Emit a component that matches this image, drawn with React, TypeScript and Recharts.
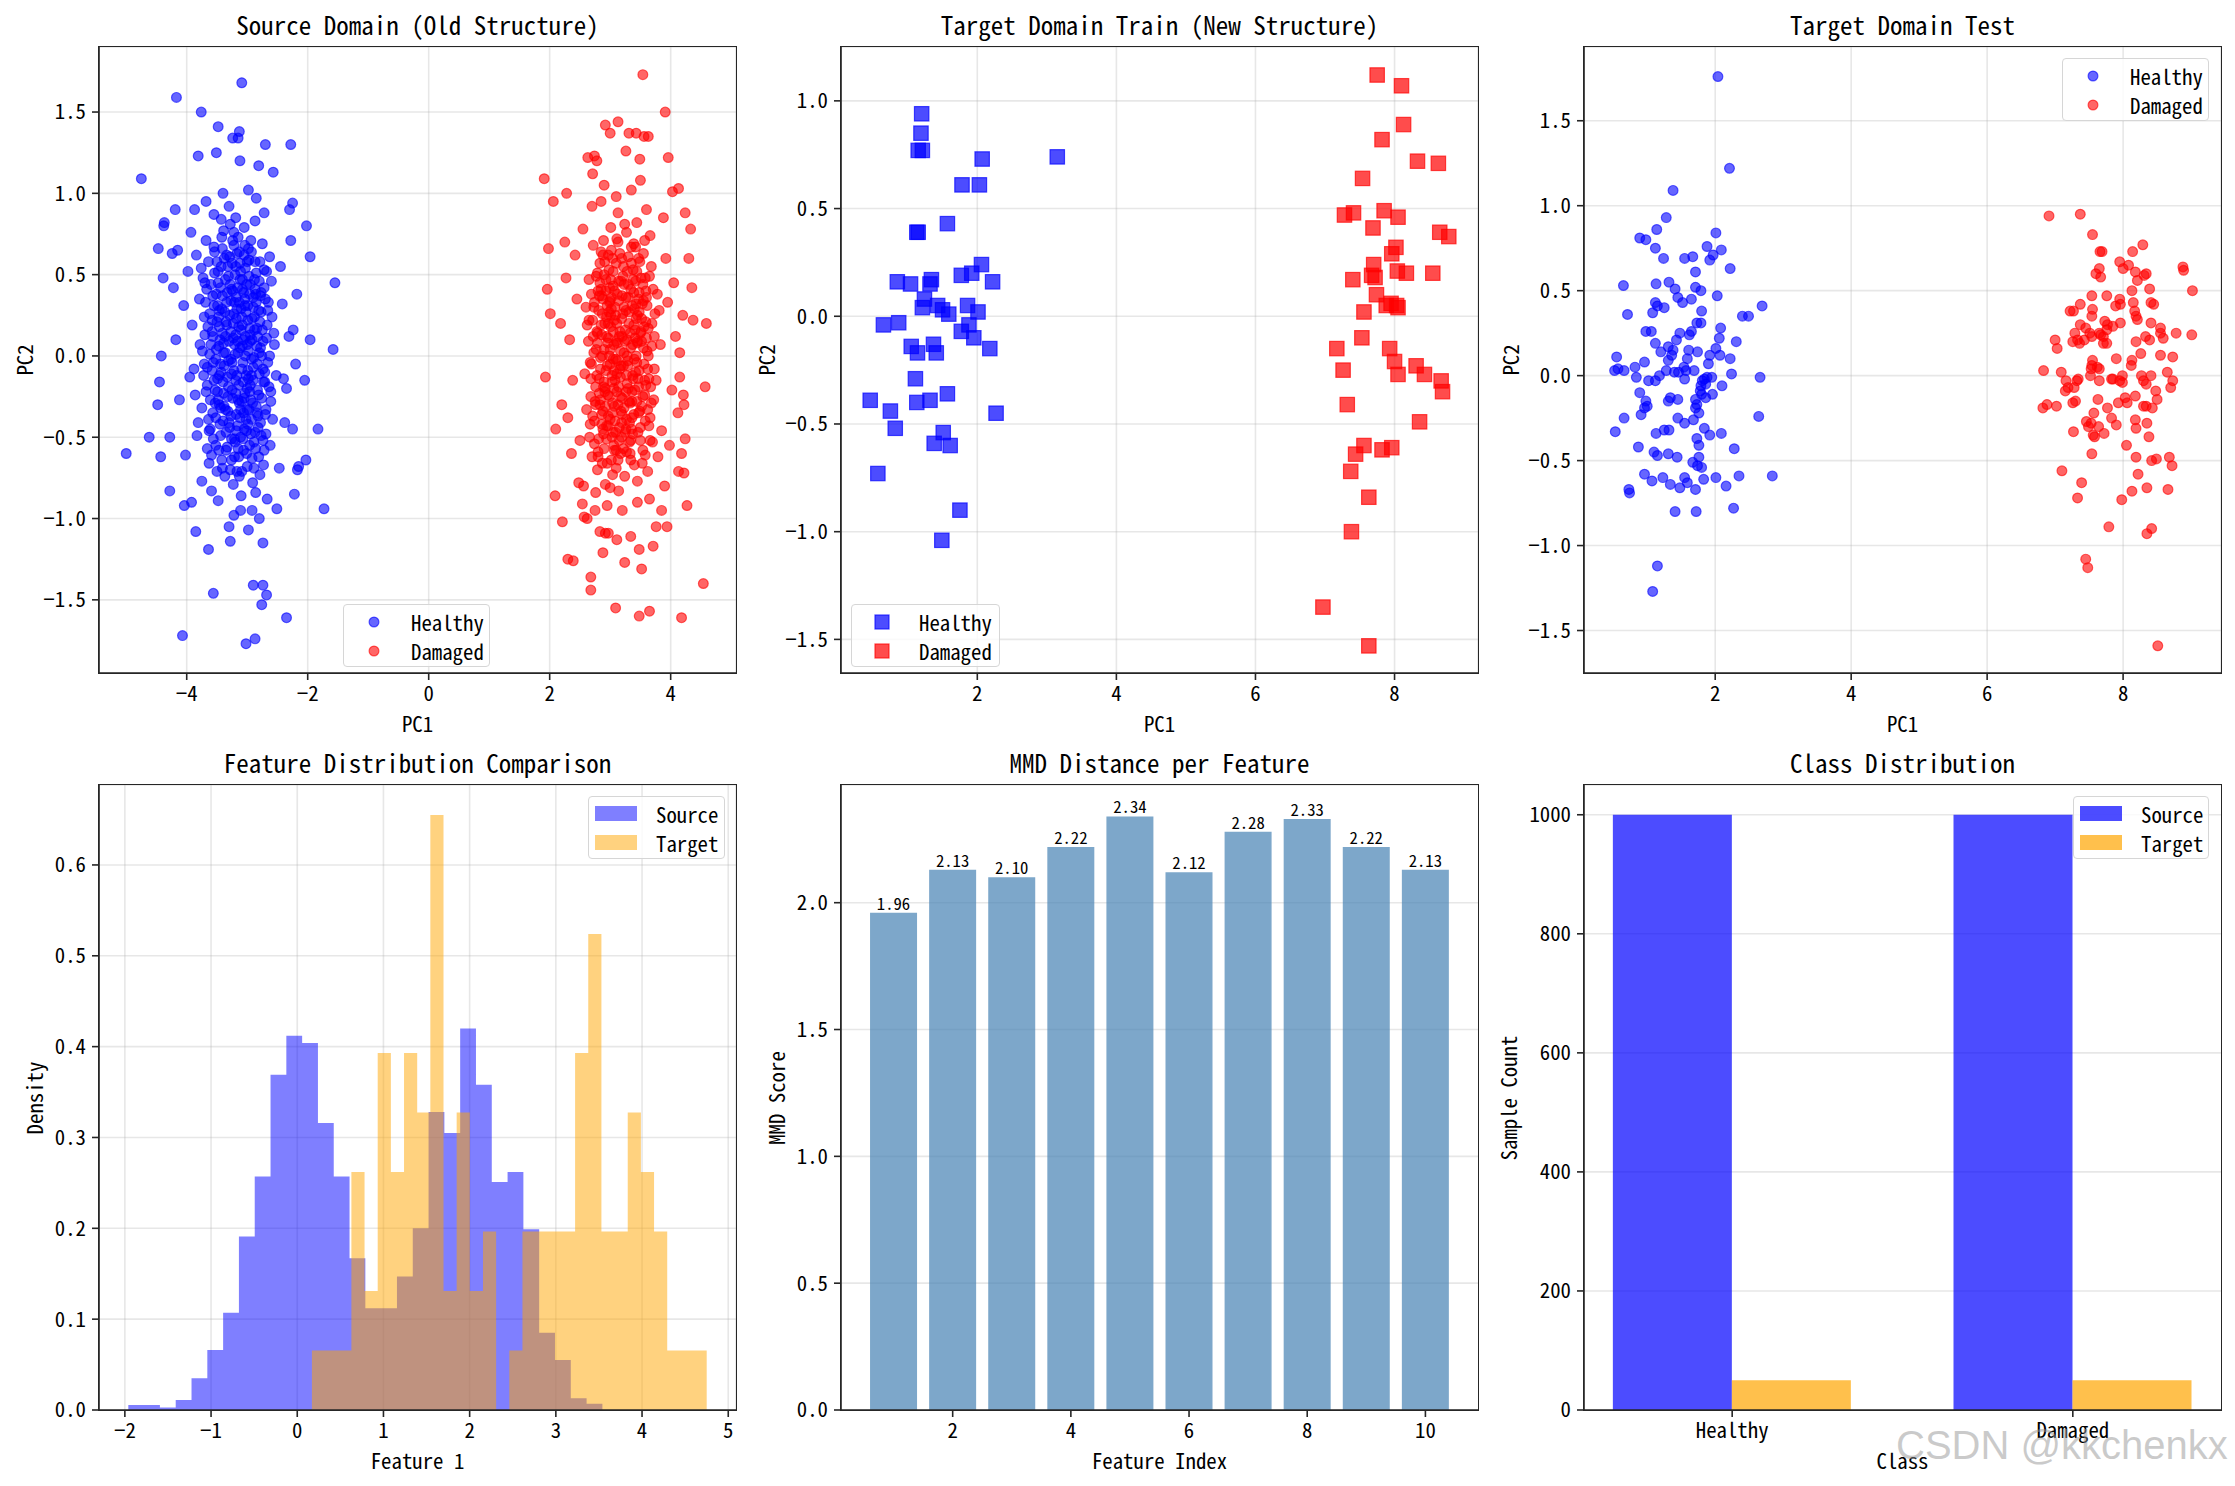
import React from "react";
import { ScatterChart, Scatter, XAxis, YAxis, CartesianGrid, BarChart, Bar, LabelList, AreaChart, Area } from "recharts";

// ---- data ----

// Source Domain (Old Structure): PC1 / PC2
const SRC_HEALTHY: [number, number][] = [
  [-4.75, 1.09], [-4.17, 1.59], [-3.09, 1.68], [-3.76, 1.5], [-3.48, 1.41], [-3.13, 1.38], [-3.24, 1.34], [-3.15, 1.34], [-2.7, 1.3], [-2.28, 1.3],
  [-3.81, 1.23], [-3.51, 1.25], [-2.57, 1.13], [-3.12, 1.2], [-2.81, 1.17], [-5.0, -0.6], [-4.62, -0.5], [-4.43, -0.62], [-4.47, 0.66], [-4.39, 0.48],
  [-4.42, 0.0], [-1.55, 0.45], [-1.58, 0.04], [-1.96, 0.61], [-2.02, 0.8], [-2.25, 0.94], [-1.83, -0.45], [-1.73, -0.94], [-2.03, -0.64], [-2.17, -0.7],
  [-2.35, -1.61], [-3.56, -1.46], [-2.9, -1.41], [-2.74, -1.41], [-2.68, -1.47], [-2.76, -1.53], [-4.07, -1.72], [-3.02, -1.77], [-2.87, -1.74], [-3.64, -1.19],
  [-3.28, -1.14], [-2.74, -1.15], [-3.85, -1.08], [-2.98, -1.07], [-4.28, -0.83], [-4.04, -0.92], [-2.51, -0.94], [-4.38, 0.8], [-4.37, 0.82], [-4.19, 0.9],
  [-4.24, 0.63], [-2.4, -0.14], [-2.05, -0.15], [-1.96, 0.1], [-2.24, 0.16], [-4.45, -0.16], [-4.48, -0.3],
  [-3.12, 0.05], [-3.35, 0.21], [-2.98, -0.14], [-3.44, -0.32], [-2.86, 0.38], [-3.21, -0.51], [-3.57, 0.12], [-2.74, -0.08], [-3.05, 0.62], [-3.66, -0.18],
  [-3.28, 0.44], [-2.93, -0.39], [-3.49, 0.31], [-3.15, -0.27], [-2.67, 0.19], [-3.78, 0.07], [-3.02, 0.27], [-3.38, -0.06], [-2.81, -0.62], [-3.24, 0.71],
  [-3.61, -0.45], [-2.95, 0.09], [-3.18, 0.36], [-3.43, 0.55], [-2.72, 0.42], [-3.09, -0.71], [-3.52, -0.02], [-2.88, 0.16], [-3.31, -0.19], [-3.69, 0.33],
  [-2.61, -0.28], [-3.14, 0.18], [-3.47, -0.58], [-3.01, -0.46], [-2.79, 0.58], [-3.36, 0.02], [-3.86, -0.24], [-3.22, -0.09], [-2.97, 0.49], [-3.55, 0.67],
  [-2.83, -0.21], [-3.27, -0.37], [-3.73, 0.48], [-3.07, -0.04], [-2.55, 0.07], [-3.41, 0.14], [-3.19, 0.85], [-2.91, -0.78], [-3.63, -0.66], [-3.33, 0.39],
  [-2.69, -0.48], [-3.11, 0.52], [-3.46, -0.12], [-2.99, 0.31], [-3.81, -0.41], [-2.77, 0.27], [-3.26, -0.64], [-3.58, 0.22], [-3.04, -0.23], [-2.63, 0.61],
  [-3.39, 0.77], [-3.16, -0.43], [-2.89, -0.01], [-3.71, -0.05], [-3.23, 0.11], [-2.94, 0.71], [-3.53, -0.29], [-2.84, -0.35], [-3.29, 0.25], [-3.08, 0.41],
  [-3.64, 0.58], [-2.71, -0.16], [-3.37, -0.74], [-3.13, 0.64], [-2.58, -0.39], [-3.48, 0.45], [-3.06, -0.58], [-3.91, 0.19], [-2.78, 0.05], [-3.32, -0.25],
  [-2.96, -0.55], [-3.19, -0.15], [-3.59, -0.83], [-2.87, 0.83], [-3.42, 0.29], [-2.65, 0.33], [-3.03, 0.12], [-3.75, -0.32], [-3.25, 0.57], [-2.92, 0.23],
  [-3.51, 0.04], [-2.82, -0.44], [-3.17, 0.29], [-3.45, -0.42], [-2.73, -0.67], [-3.34, 0.62], [-3.0, -0.33], [-2.52, -0.12], [-3.67, 0.41], [-3.1, -0.86],
  [-3.3, 0.92], [-2.85, 0.51], [-3.56, -0.51], [-3.2, 0.01], [-2.76, -0.26], [-3.4, -0.16], [-3.84, 0.62], [-2.9, 0.36], [-3.14, -0.62], [-3.62, 0.26],
  [-2.68, 0.11], [-3.27, 0.15], [-3.05, 0.79], [-3.5, -0.71], [-2.8, -0.11], [-3.18, -0.36], [-3.72, -0.12], [-2.98, 0.03], [-3.43, 0.84], [-2.62, -0.55],
  [-3.35, -0.47], [-3.09, 0.24], [-2.75, 0.69], [-3.6, 0.07], [-3.23, -0.79], [-2.94, -0.27], [-3.54, 0.51], [-3.02, -0.12], [-3.46, 0.18], [-2.86, -0.84],
  [-3.12, 0.47], [-3.79, 0.35], [-2.7, -0.36], [-3.31, -0.03], [-2.97, 0.59], [-3.66, -0.57], [-3.21, 0.33], [-2.59, 0.24], [-3.38, -0.31], [-3.07, -0.51],
  [-2.83, 0.12], [-3.49, -0.22], [-3.15, 0.73], [-2.92, -0.63], [-3.57, 0.37], [-3.26, -0.11], [-2.66, -0.04], [-3.41, 0.66], [-3.0, -0.68], [-3.88, -0.08],
  [-3.19, 0.55], [-2.78, 0.37], [-3.33, -0.56], [-2.95, -0.18], [-3.7, 0.13], [-3.08, 0.06], [-3.52, -0.38], [-2.74, -0.52], [-3.28, 0.81], [-2.88, 0.47],
  [-3.44, -0.05], [-3.13, -0.29], [-2.6, 0.46], [-3.61, -0.27], [-3.24, 0.4], [-2.99, -0.42], [-3.39, 0.08], [-2.81, 0.28], [-3.76, 0.54], [-3.17, -0.71],
  [-3.04, 0.35], [-3.47, 0.24], [-2.9, -0.07], [-3.3, -0.41], [-2.72, 0.53], [-3.55, -0.15], [-3.1, 0.16], [-2.85, -0.31], [-3.64, -0.39], [-3.22, 0.68],
  [-2.96, 0.17], [-3.36, 0.47], [-2.64, -0.19], [-3.5, 0.58], [-3.06, -0.35], [-2.79, -0.73], [-3.42, -0.64], [-3.16, 0.09], [-3.83, -0.49], [-2.93, 0.64],
  [-3.25, -0.21], [-2.56, 0.14], [-3.58, -0.09], [-3.01, 0.44], [-2.76, 0.0], [-3.34, 0.33], [-3.11, -0.95], [-3.68, 0.71], [-2.87, -0.47], [-3.2, -0.53],
  [-4.05, 0.31], [-4.12, -0.27], [-3.98, 0.52], [-4.02, -0.61], [-3.95, -0.13], [-3.93, 0.76], [-4.18, 0.1], [-2.42, 0.32], [-2.38, -0.41], [-2.45, 0.55],
  [-2.35, -0.2], [-2.47, -0.69], [-2.31, 0.12], [-2.28, 0.71], [-2.25, -0.45], [-3.22, -0.98], [-2.92, -0.95], [-3.48, -0.89], [-3.75, -0.77], [-2.67, -0.88],
  [-3.4, 1.0], [-2.98, 1.02], [-3.68, 0.95], [-2.85, 0.97], [-3.55, 0.87], [-2.72, 0.88], [-4.22, 0.42], [-4.28, -0.5], [-3.87, 0.9], [-3.92, -0.9],
  [-4.15, 0.65], [-2.2, -0.05], [-2.18, 0.38], [-2.15, -0.68], [-2.3, 0.9], [-2.22, -0.85], [-3.3, -1.05], [-2.8, -1.0],
  [-3.08, 0.19], [-3.27, -0.02], [-2.96, -0.22], [-3.41, 0.37], [-3.18, -0.46], [-2.84, 0.06], [-3.53, -0.21], [-3.03, 0.54], [-3.36, -0.33], [-2.71, -0.1],
  [-3.22, 0.26], [-3.47, 0.06], [-2.9, 0.3], [-3.14, -0.18], [-3.6, 0.44], [-2.78, -0.41], [-3.31, 0.49], [-3.01, -0.6], [-3.44, -0.49], [-2.87, 0.58],
  [-3.19, 0.13], [-3.66, -0.07], [-2.93, -0.12], [-3.29, -0.44], [-3.06, 0.39], [-2.66, 0.28], [-3.5, 0.21], [-3.12, -0.38], [-2.81, -0.24], [-3.38, 0.6],
  [-3.0, 0.07], [-3.57, -0.35], [-3.24, -0.26], [-2.75, 0.16], [-3.43, -0.1], [-3.09, -0.08], [-2.95, 0.44], [-3.71, 0.24], [-3.17, 0.63], [-2.86, -0.57],
  [-3.34, 0.19], [-3.05, -0.26], [-2.69, -0.33], [-3.48, 0.52], [-3.21, -0.62], [-2.99, 0.22], [-3.62, 0.01], [-3.26, 0.41], [-2.8, 0.46], [-3.11, -0.5],
  [-3.39, -0.23], [-2.92, 0.1], [-3.55, 0.31], [-3.15, 0.02], [-2.73, -0.16], [-3.3, 0.09], [-3.04, 0.68], [-3.46, -0.3], [-2.89, -0.69], [-3.2, 0.5],
  [-3.58, 0.15], [-2.97, -0.33], [-3.33, -0.13], [-2.77, 0.39], [-3.13, 0.33], [-3.42, 0.73], [-3.07, -0.16], [-2.63, 0.0], [-3.52, -0.55], [-3.23, 0.2],
  [-2.88, 0.24], [-3.37, 0.27], [-3.02, -0.39], [-3.68, -0.22], [-2.83, -0.05], [-3.16, 0.42], [-3.45, 0.1], [-2.94, -0.48], [-3.28, -0.7], [-3.1, 0.29],
  [-2.72, -0.58], [-3.54, 0.64], [-3.19, -0.23], [-2.98, 0.66], [-3.4, -0.4], [-3.06, 0.1], [-2.85, 0.33], [-3.63, -0.46], [-3.25, -0.04], [-2.91, -0.29],
  [-3.32, 0.55], [-3.0, -0.2], [-3.74, 0.03], [-2.79, 0.21], [-3.15, -0.57], [-3.49, -0.14], [-2.96, 0.38], [-3.27, 0.34], [-2.68, 0.52], [-3.11, -0.33],
  [-3.44, 0.42], [-3.03, 0.0], [-2.82, -0.37], [-3.59, -0.61], [-3.22, 0.76], [-2.9, -0.15], [-3.35, -0.58], [-3.08, 0.47], [-2.74, 0.09], [-3.51, 0.38],
  [-3.17, -0.12], [-2.95, 0.13], [-3.39, 0.02], [-3.05, -0.45], [-2.61, -0.22], [-3.29, 0.61], [-3.65, 0.18], [-2.87, 0.41], [-3.13, -0.74], [-3.46, 0.28],
  [-2.99, -0.09], [-3.21, 0.07], [-2.77, -0.49], [-3.56, -0.04], [-3.32, -0.34], [-3.0, 0.58], [-2.84, 0.17], [-3.41, -0.69], [-3.18, 0.23], [-2.93, -0.02],
  [-3.7, 0.45], [-3.26, -0.51], [-3.04, 0.31], [-2.7, 0.35], [-3.48, -0.27], [-3.12, 0.57], [-2.89, -0.53], [-3.36, 0.12], [-3.09, -0.28], [-2.8, 0.02],
];

const SRC_DAMAGED: [number, number][] = [
  [3.54, 1.73], [3.91, 1.5], [2.92, 1.42], [3.13, 1.44], [3.0, 1.37], [3.31, 1.37], [3.43, 1.37], [3.56, 1.35], [3.63, 1.35], [1.91, 1.09],
  [2.06, 0.95], [2.28, 1.0], [1.98, 0.66], [1.96, 0.41], [2.01, 0.26], [1.93, -0.13], [2.1, -0.45], [2.09, -0.86], [2.21, -1.02], [2.3, -1.25],
  [2.39, -1.26], [2.68, -1.36], [2.68, -1.44], [3.09, -1.55], [3.48, -1.6], [3.65, -1.57], [4.18, -1.61], [4.54, -1.4], [4.59, 0.2], [4.57, -0.19],
  [4.37, 0.22], [4.35, 0.42], [4.3, 0.6], [4.33, 0.78], [4.24, 0.88], [4.03, 1.01], [4.13, 1.03], [3.96, 1.22], [4.27, -0.92], [4.22, -0.72],
  [4.13, -0.71], [3.52, -1.31], [3.71, -1.17], [3.24, -1.27], [2.88, -1.21], [3.94, -1.05], [3.76, -1.05], [2.56, -0.8], [2.54, -0.91], [2.57, -0.99],
  [2.83, -1.08], [2.92, -1.09], [2.97, -1.09], [3.11, -1.13], [3.34, -1.11], [3.48, -1.19], [4.21, -0.24], [4.22, -0.3], [4.24, -0.51], [4.15, -0.13],
  [2.74, 1.23], [2.78, 1.2], [2.63, 1.22], [3.26, 1.26], [3.49, 1.21], [2.71, 1.12],
  [3.12, 0.08], [2.91, -0.22], [3.36, 0.31], [3.05, -0.47], [3.48, -0.09], [2.78, 0.15], [3.22, 0.55], [3.59, 0.21], [2.95, -0.66], [3.31, -0.28],
  [2.85, 0.41], [3.17, -0.13], [3.66, -0.38], [3.02, 0.29], [2.69, -0.05], [3.42, 0.67], [3.27, -0.59], [2.88, -0.34], [3.54, 0.44], [3.09, -0.02],
  [3.73, 0.12], [2.97, 0.62], [3.35, -0.45], [2.74, 0.33], [3.19, 0.23], [3.62, -0.71], [3.04, -0.29], [2.81, -0.51], [3.45, 0.09], [3.14, 0.46],
  [2.62, 0.19], [3.28, -0.17], [3.81, 0.28], [3.0, -0.81], [3.39, 0.39], [2.9, 0.04], [3.57, -0.24], [3.11, 0.72], [2.76, -0.19], [3.24, -0.74],
  [3.68, 0.55], [2.93, -0.09], [3.33, 0.14], [3.07, -0.58], [3.5, -0.52], [2.83, 0.57], [3.2, -0.36], [2.67, -0.42], [3.44, 0.82], [3.01, 0.18],
  [3.76, -0.15], [3.15, -0.44], [2.87, 0.26], [3.3, 0.61], [3.61, 0.03], [2.99, 0.42], [3.4, -0.67], [2.72, 0.68], [3.18, -0.06], [3.53, 0.32],
  [2.94, -0.43], [3.26, 0.36], [3.85, -0.46], [3.06, 0.07], [2.79, -0.7], [3.37, -0.12], [3.13, 0.88], [2.58, -0.11], [3.47, -0.35], [3.03, -0.16],
  [3.71, 0.41], [2.89, 0.71], [3.23, 0.02], [3.58, -0.61], [2.97, 0.11], [3.32, -0.53], [2.75, -0.28], [3.43, 0.23], [3.1, -0.69], [3.66, 0.74],
  [2.84, -0.01], [3.21, 0.49], [3.49, 0.58], [2.92, -0.79], [3.34, 0.05], [3.05, 0.52], [2.65, 0.47], [3.56, -0.05], [3.17, -0.25], [3.79, -0.62],
  [3.0, 0.34], [2.8, -0.59], [3.41, -0.21], [3.27, 0.76], [2.96, -0.24], [3.63, 0.17], [3.08, -0.4], [2.73, 0.02], [3.38, 0.47], [3.14, -0.83],
  [3.52, 0.09], [2.86, 0.37], [3.25, -0.47], [2.61, -0.33], [3.45, -0.77], [3.09, 0.25], [3.72, -0.27], [2.98, 0.53], [3.29, -0.03], [2.82, -0.14],
  [3.6, 0.36], [3.16, 0.15], [2.7, -0.62], [3.36, -0.38], [3.02, 0.65], [3.83, 0.07], [2.91, 0.2], [3.22, -0.57], [3.55, 0.63], [3.11, -0.11],
  [2.77, 0.49], [3.43, 0.0], [3.07, -0.31], [3.67, -0.19], [2.88, -0.45], [3.31, 0.27], [2.64, 0.09], [3.5, -0.44], [3.19, 0.6], [2.95, 0.31],
  [3.74, 0.26], [3.04, -0.73], [3.39, 0.69], [2.79, 0.08], [3.26, -0.22], [3.58, 0.48], [2.9, -0.57], [3.12, 0.38], [3.46, -0.14], [2.68, -0.25],
  [3.34, -0.64], [3.0, -0.05], [3.64, -0.43], [2.85, 0.64], [3.2, 0.12], [3.52, -0.31], [2.97, -0.37], [3.3, 0.44], [2.74, -0.4], [3.41, 0.16],
  [3.15, -0.52], [3.78, 0.38], [2.93, 0.47], [3.24, 0.81], [2.6, 0.3], [3.48, 0.27], [3.06, -0.2], [3.69, 0.06], [2.83, -0.3], [3.37, -0.48],
  [3.1, 0.57], [2.71, 0.22], [3.54, -0.58], [3.18, -0.34], [2.99, 0.0], [3.44, 0.52], [2.87, -0.66], [3.28, 0.1], [3.62, -0.08], [3.01, 0.79],
  [3.33, -0.29], [2.8, 0.4], [3.57, 0.71], [3.13, -0.64], [2.94, 0.24], [3.4, -0.02], [2.66, -0.5], [3.23, 0.3], [3.7, -0.53], [3.05, 0.43],
  [2.89, -0.19], [3.47, 0.35], [3.16, -0.08], [2.76, -0.84], [3.35, 0.57], [3.59, -0.18], [3.03, -0.5], [2.86, 0.13], [3.27, -0.39], [3.51, 0.15],
  [2.45, 0.35], [2.38, -0.15], [2.5, -0.52], [2.42, 0.62], [2.33, 0.1], [2.48, -0.78], [2.3, -0.38], [2.55, 0.78], [2.27, 0.48], [2.36, -0.6],
  [3.95, 0.33], [4.02, -0.21], [3.92, 0.6], [4.08, 0.12], [3.98, -0.55], [4.05, 0.45], [3.9, -0.8], [4.12, -0.35], [3.88, 0.85], [4.15, 0.02],
  [3.2, -0.95], [2.95, -0.92], [3.45, -0.9], [2.75, -0.95], [3.65, -0.88], [3.1, 0.98], [2.85, 0.95], [3.35, 1.02], [3.6, 0.9], [2.7, 0.92],
  [2.2, -0.3], [2.18, 0.2], [2.25, 0.7], [4.2, 0.25], [4.18, -0.6], [3.85, -0.95], [2.62, -1.0], [3.5, 1.08], [2.9, 1.05],
  [3.11, 0.2], [3.29, -0.06], [2.94, 0.12], [3.44, -0.28], [3.07, 0.4], [2.82, -0.23], [3.55, 0.05], [3.19, -0.41], [2.98, 0.27], [3.38, 0.53],
  [3.03, -0.12], [2.73, 0.3], [3.62, -0.33], [3.25, 0.16], [2.89, -0.48], [3.48, 0.39], [3.14, -0.19], [2.79, 0.51], [3.33, -0.6], [3.0, 0.04],
  [3.69, 0.2], [3.2, 0.37], [2.92, -0.31], [3.41, 0.11], [3.06, -0.55], [2.85, 0.19], [3.57, -0.15], [3.16, 0.63], [2.68, -0.14], [3.36, -0.22],
  [3.01, 0.47], [3.52, 0.23], [2.95, -0.06], [3.23, -0.32], [2.77, 0.04], [3.46, -0.47], [3.1, 0.09], [3.65, 0.49], [2.88, 0.35], [3.31, 0.2],
  [3.04, -0.35], [2.71, -0.37], [3.43, 0.32], [3.17, 0.03], [2.91, 0.58], [3.58, -0.4], [3.27, -0.12], [2.84, -0.08], [3.39, -0.36], [3.08, 0.3],
  [3.73, -0.08], [2.99, -0.25], [3.34, 0.41], [2.8, -0.62], [3.21, 0.26], [3.5, 0.14], [3.13, -0.3], [2.65, 0.22], [3.42, -0.1], [3.05, 0.15],
  [2.93, 0.4], [3.61, 0.31], [3.26, -0.45], [2.87, 0.0], [3.37, 0.07], [3.02, -0.64], [3.54, -0.25], [3.18, 0.46], [2.76, -0.3], [3.47, 0.6],
  [3.12, -0.03], [2.97, 0.2], [3.3, -0.2], [2.83, 0.45], [3.66, -0.52], [3.24, 0.09], [2.9, -0.16], [3.45, 0.25], [3.09, -0.47], [2.72, 0.12],
  [3.35, 0.67], [3.0, -0.39], [3.59, 0.4], [3.22, -0.06], [2.86, -0.42], [3.4, 0.29], [3.14, 0.34], [2.78, -0.12], [3.53, -0.66], [3.07, 0.22],
  [3.28, 0.52], [2.94, -0.51], [3.63, 0.0], [3.17, -0.6], [2.81, 0.28], [3.44, -0.04], [3.04, 0.6], [3.32, -0.41], [2.69, 0.38], [3.51, 0.48],
  [3.11, -0.22], [2.96, 0.08], [3.38, -0.14], [3.02, 0.36], [2.74, -0.54], [3.56, 0.18], [3.2, -0.26], [2.9, 0.5], [3.47, -0.19], [3.15, 0.12],
  [2.84, -0.27], [3.3, 0.36], [3.68, -0.29], [3.06, -0.09], [2.88, 0.62], [3.42, 0.46], [3.19, -0.5], [2.97, -0.43], [3.6, 0.11], [3.26, 0.28],
  [2.79, 0.14], [3.34, -0.52], [3.01, 0.25], [3.49, -0.34], [3.13, 0.7], [2.92, -0.2], [3.39, 0.19], [3.08, -0.15], [2.67, -0.04], [3.55, 0.34],
  [3.23, 0.44], [2.86, -0.36], [3.45, 0.08], [3.1, -0.58], [2.99, 0.33], [3.64, -0.14], [3.28, 0.0], [2.82, 0.37], [3.36, -0.28], [3.05, -0.02],
];

// Target Domain Train (New Structure)
const TRAIN_HEALTHY: [number, number][] = [
  [1.2, 0.94], [1.19, 0.85], [1.15, 0.77], [1.21, 0.77], [2.07, 0.73], [3.15, 0.74], [1.78, 0.61], [2.03, 0.61], [1.13, 0.39], [1.15, 0.39],
  [1.57, 0.43], [2.06, 0.24], [1.77, 0.19], [1.92, 0.2], [2.22, 0.16], [0.85, 0.16], [1.04, 0.15], [1.34, 0.17], [1.32, 0.15], [1.24, 0.08],
  [1.21, 0.04], [1.43, 0.05], [1.5, 0.03], [1.59, 0.01], [1.86, 0.05], [2.01, 0.02], [0.65, -0.04], [0.87, -0.03], [1.88, -0.04], [1.77, -0.07],
  [1.95, -0.1], [2.18, -0.15], [1.05, -0.14], [1.14, -0.17], [1.37, -0.13], [1.41, -0.17], [1.11, -0.29], [0.46, -0.39], [0.75, -0.44], [0.82, -0.52],
  [1.13, -0.4], [1.32, -0.39], [1.57, -0.36], [2.27, -0.45], [1.51, -0.54], [1.38, -0.59], [1.61, -0.6], [0.57, -0.73], [1.75, -0.9], [1.49, -1.04],
];
const TRAIN_DAMAGED: [number, number][] = [
  [7.75, 1.12], [8.1, 1.07], [8.13, 0.89], [7.82, 0.82], [8.33, 0.72], [8.63, 0.71], [7.54, 0.64], [7.28, 0.47], [7.41, 0.48], [7.85, 0.49],
  [8.05, 0.46], [7.69, 0.41], [8.65, 0.39], [8.78, 0.37], [8.02, 0.32], [7.96, 0.29], [7.7, 0.24], [7.4, 0.17], [7.67, 0.19], [7.72, 0.18],
  [8.04, 0.21], [8.17, 0.2], [8.55, 0.2], [7.74, 0.1], [7.88, 0.05], [7.95, 0.06], [8.03, 0.05], [8.05, 0.04], [7.56, 0.02], [7.53, -0.1],
  [7.17, -0.15], [7.93, -0.15], [8.0, -0.21], [8.05, -0.27], [7.26, -0.25], [8.31, -0.23], [8.43, -0.27], [8.67, -0.3], [8.69, -0.35], [7.32, -0.41],
  [8.36, -0.49], [7.56, -0.6], [7.44, -0.64], [7.82, -0.62], [7.96, -0.61], [7.37, -0.72], [7.63, -0.84], [7.38, -1.0], [6.97, -1.35], [7.63, -1.53],
];

// Target Domain Test
const TEST_HEALTHY: [number, number][] = [
  [2.04, 1.76], [2.21, 1.22], [1.38, 1.09], [1.28, 0.93], [1.14, 0.86], [2.01, 0.84], [0.89, 0.81], [0.98, 0.8], [1.12, 0.75], [1.88, 0.76],
  [2.09, 0.74], [1.24, 0.69], [1.55, 0.69], [1.67, 0.7], [1.92, 0.68], [1.97, 0.71], [2.22, 0.63], [1.71, 0.61], [0.65, 0.53], [1.13, 0.54],
  [1.32, 0.55], [1.41, 0.51], [1.71, 0.52], [1.79, 0.5], [1.45, 0.46], [1.52, 0.43], [1.65, 0.45], [2.03, 0.47], [2.69, 0.41], [1.12, 0.43],
  [1.15, 0.41], [1.25, 0.4], [0.71, 0.36], [1.08, 0.37], [1.8, 0.38], [2.4, 0.35], [2.49, 0.35], [1.73, 0.31], [1.79, 0.31], [2.08, 0.28],
  [0.98, 0.26], [1.06, 0.26], [1.48, 0.25], [1.65, 0.26], [1.62, 0.24], [1.43, 0.21], [1.12, 0.19], [2.06, 0.22], [2.31, 0.2], [1.31, 0.17],
  [1.38, 0.15], [1.2, 0.14], [1.74, 0.14], [1.61, 0.15], [2.01, 0.16], [1.92, 0.12], [2.07, 0.12], [2.22, 0.1], [1.36, 0.12], [1.31, 0.09],
  [1.59, 0.1], [0.55, 0.11], [0.96, 0.08], [1.9, 0.07], [0.82, 0.05], [0.52, 0.03], [0.57, 0.04], [0.66, 0.03], [1.28, 0.03], [1.4, 0.02],
  [1.46, 0.02], [1.54, 0.05], [1.57, 0.03], [1.69, 0.03], [2.24, 0.01], [2.66, -0.01], [0.84, -0.01], [1.18, 0.0], [1.02, -0.03], [1.12, -0.03],
  [1.55, -0.02], [1.81, -0.03], [1.84, -0.02], [1.88, -0.01], [1.95, -0.01], [1.79, -0.06], [1.86, -0.05], [2.1, -0.06], [0.89, -0.1], [1.34, -0.13],
  [1.31, -0.15], [1.45, -0.14], [0.98, -0.15], [1.0, -0.18], [0.96, -0.19], [1.71, -0.14], [1.73, -0.17], [1.8, -0.11], [1.78, -0.09], [1.86, -0.13],
  [1.96, -0.11], [1.71, -0.19], [0.91, -0.23], [0.66, -0.25], [1.76, -0.22], [1.45, -0.25], [1.55, -0.28], [1.68, -0.26], [2.64, -0.24], [0.53, -0.33],
  [1.13, -0.34], [1.25, -0.32], [1.32, -0.32], [1.84, -0.31], [1.92, -0.35], [2.09, -0.34], [1.73, -0.37], [1.76, -0.41], [0.87, -0.42], [2.28, -0.43],
  [1.1, -0.45], [1.15, -0.47], [1.31, -0.46], [1.44, -0.48], [1.76, -0.48], [1.74, -0.53], [1.67, -0.51], [1.8, -0.54], [0.96, -0.58], [1.23, -0.6],
  [1.07, -0.62], [1.34, -0.64], [1.48, -0.66], [1.55, -0.6], [1.59, -0.63], [1.71, -0.67], [1.83, -0.61], [2.01, -0.6], [2.16, -0.65], [2.35, -0.59],
  [2.84, -0.59], [0.73, -0.67], [0.74, -0.69], [1.41, -0.8], [1.72, -0.8], [2.27, -0.78], [1.15, -1.12], [1.08, -1.27],
];
const TEST_DAMAGED: [number, number][] = [
  [6.91, 0.94], [7.37, 0.95], [7.55, 0.83], [7.66, 0.73], [7.69, 0.73], [8.29, 0.77], [8.14, 0.73], [7.95, 0.67], [8.08, 0.65], [8.0, 0.63],
  [7.65, 0.63], [7.6, 0.6], [7.67, 0.58], [8.18, 0.61], [8.31, 0.59], [8.34, 0.6], [8.21, 0.56], [8.88, 0.64], [8.89, 0.62], [9.02, 0.5],
  [8.39, 0.51], [8.13, 0.5], [7.54, 0.47], [7.76, 0.47], [7.37, 0.42], [7.95, 0.45], [7.96, 0.42], [7.89, 0.41], [8.15, 0.43], [8.41, 0.43],
  [8.45, 0.42], [7.22, 0.38], [7.27, 0.38], [7.55, 0.39], [8.17, 0.38], [8.19, 0.35], [7.54, 0.35], [7.73, 0.32], [7.77, 0.3], [7.85, 0.29],
  [7.96, 0.31], [8.21, 0.33], [8.41, 0.31], [8.55, 0.28], [7.37, 0.3], [7.45, 0.28], [7.29, 0.25], [7.33, 0.21], [7.26, 0.2], [7.36, 0.19],
  [7.51, 0.25], [7.65, 0.25], [7.67, 0.24], [7.76, 0.27], [7.71, 0.23], [7.0, 0.21], [7.03, 0.16], [7.43, 0.21], [7.54, 0.23], [7.71, 0.19],
  [7.76, 0.19], [8.19, 0.2], [8.33, 0.23], [8.39, 0.21], [8.55, 0.25], [8.59, 0.22], [8.78, 0.25], [9.01, 0.24], [8.26, 0.13], [8.55, 0.12],
  [8.73, 0.11], [7.55, 0.09], [7.54, 0.06], [7.62, 0.05], [7.9, 0.1], [8.13, 0.09], [8.12, 0.06], [6.83, 0.03], [7.09, 0.02], [7.53, 0.04],
  [7.52, 0.0], [7.65, 0.04], [7.83, -0.02], [7.85, -0.02], [7.99, 0.0], [7.95, -0.03], [7.99, -0.04], [8.27, 0.0], [8.3, -0.03], [8.41, 0.0],
  [8.65, 0.02], [8.73, -0.03], [7.16, -0.03], [7.32, -0.03], [7.34, -0.02], [7.19, -0.07], [7.15, -0.09], [7.28, -0.07], [7.65, -0.03], [8.34, -0.05],
  [8.48, -0.09], [8.7, -0.07], [6.82, -0.19], [6.88, -0.17], [7.02, -0.18], [7.26, -0.16], [7.3, -0.15], [7.63, -0.14], [7.93, -0.16], [8.03, -0.13],
  [8.06, -0.16], [8.18, -0.12], [8.3, -0.18], [8.34, -0.18], [8.43, -0.19], [8.5, -0.14], [7.77, -0.19], [7.57, -0.22], [7.46, -0.27], [7.53, -0.28],
  [7.49, -0.3], [7.83, -0.25], [7.9, -0.29], [8.18, -0.26], [8.19, -0.31], [8.35, -0.28], [7.64, -0.3], [7.56, -0.35], [7.58, -0.36], [7.72, -0.34],
  [7.27, -0.33], [8.38, -0.36], [8.05, -0.41], [7.54, -0.46], [8.19, -0.48], [8.42, -0.5], [8.49, -0.49], [8.68, -0.48], [8.72, -0.53], [7.1, -0.56],
  [8.22, -0.58], [7.39, -0.63], [7.33, -0.72], [8.13, -0.68], [8.35, -0.66], [8.66, -0.67], [7.98, -0.73], [7.79, -0.89], [8.42, -0.9], [8.35, -0.93],
  [7.45, -1.08], [7.48, -1.13], [8.51, -1.59],
];

const SRC_X_TICKS = [-4, -2, 0, 2, 4];
const SRC_Y_TICKS = [-1.5, -1.0, -0.5, 0.0, 0.5, 1.0, 1.5];
const TRAIN_X_TICKS = [2, 4, 6, 8];
const TRAIN_Y_TICKS = [-1.5, -1.0, -0.5, 0.0, 0.5, 1.0];
const TEST_X_TICKS = [2, 4, 6, 8];
const TEST_Y_TICKS = [-1.5, -1.0, -0.5, 0.0, 0.5, 1.0, 1.5];

// Feature Distribution Comparison (density histograms, 30 bins each)
const SRC_HIST_RANGE = [-1.96, 3.54];
const SRC_DENSITY = [
  0.0055, 0.0055, 0.0027, 0.011, 0.035, 0.066, 0.107, 0.191, 0.257, 0.369,
  0.412, 0.404, 0.316, 0.257, 0.167, 0.112, 0.112, 0.147, 0.2, 0.328,
  0.305, 0.42, 0.358, 0.251, 0.262, 0.199, 0.085, 0.055, 0.013, 0.007,
];
const TGT_HIST_RANGE = [0.17, 4.75];
const TGT_DENSITY = [
  0.0655, 0.0655, 0.0655, 0.262, 0.131, 0.393, 0.262, 0.393, 0.3275, 0.655,
  0.131, 0.3275, 0.131, 0.1965, 0, 0.0655, 0.1965, 0.1965, 0.1965, 0.1965,
  0.393, 0.524, 0.1965, 0.1965, 0.3275, 0.262, 0.1965, 0.0655, 0.0655, 0.0655,
];
const HIST_X_TICKS = [-2, -1, 0, 1, 2, 3, 4, 5];
const HIST_Y_TICKS = [0, 0.1, 0.2, 0.3, 0.4, 0.5, 0.6];

// MMD Distance per Feature
const MMD_FEATURES = [1, 2, 3, 4, 5, 6, 7, 8, 9, 10];
const MMD_SCORES = [1.96, 2.13, 2.1, 2.22, 2.34, 2.12, 2.28, 2.33, 2.22, 2.13];
const MMD_X_TICKS = [2, 4, 6, 8, 10];
const MMD_Y_TICKS = [0, 0.5, 1.0, 1.5, 2.0];

// Class Distribution
const CLASS_NAMES = ["Healthy", "Damaged"];
const SOURCE_COUNTS = [1000, 1000];
const TARGET_COUNTS = [50, 50];
const CLASS_Y_TICKS = [0, 200, 400, 600, 800, 1000];

// ---- layout helpers ----

const FONT = "'Noto Sans Mono CJK SC', 'Noto Sans CJK SC', 'DejaVu Sans Mono', monospace";
const INK = "#262626";
const PAD_L = 90, PAD_T = 10, PAD_R = 10, PAD_B = 70;
const Y_W = 80, X_H = 40;
const MARGIN = { top: PAD_T, right: PAD_R, left: PAD_L - Y_W, bottom: PAD_B - X_H };

type Rect = { x: number; y: number; w: number; h: number };
const P1: Rect = { x: 99, y: 47, w: 637, h: 626 };
const P2: Rect = { x: 841, y: 47, w: 637, h: 626 };
const P3: Rect = { x: 1584, y: 47, w: 637, h: 626 };
const P4: Rect = { x: 99, y: 785, w: 637, h: 625 };
const P5: Rect = { x: 841, y: 785, w: 637, h: 625 };
const P6: Rect = { x: 1584, y: 785, w: 637, h: 625 };

const fmt1 = (v: number) => v.toFixed(1).replace("-", "\u2212");
const fmt0 = (v: number) => String(v).replace("-", "\u2212");

const tickStyle = { fontSize: 20.8, fill: "#000", fontFamily: FONT };
const axisProps = {
  axisLine: { stroke: INK, strokeWidth: 1.6 },
  tickLine: { stroke: INK, strokeWidth: 1.6 },
  tickSize: 7,
  tickMargin: 6,
  tick: tickStyle,
  allowDataOverflow: true,
  interval: 0 as const,
};
const gridProps = { stroke: "#b0b0b0", strokeOpacity: 0.3, strokeWidth: 1.6 };

function box(r: Rect): React.CSSProperties {
  return { position: "absolute", left: r.x - PAD_L, top: r.y - PAD_T };
}
const cw = (r: Rect) => r.w + PAD_L + PAD_R;
const ch = (r: Rect) => r.h + PAD_T + PAD_B;

function Frame({ r, title, xLabel, yLabel, yLabelDx }: { r: Rect; title: string; xLabel: string; yLabel: string; yLabelDx: number }) {
  return (
    <>
      <div style={{ position: "absolute", left: r.x - 0.8, top: r.y - 0.8, width: r.w + 1.6, height: r.h + 1.6, border: `1.6px solid ${INK}`, boxSizing: "border-box", pointerEvents: "none" }} />
      <div style={{ position: "absolute", left: r.x, width: r.w, top: r.y - 38, textAlign: "center", fontSize: 25, lineHeight: "30px", fontFamily: FONT, color: "#000" }}>{title}</div>
      <div style={{ position: "absolute", left: r.x, width: r.w, top: r.y + r.h + 36, textAlign: "center", fontSize: 20.8, lineHeight: "28px", fontFamily: FONT, color: "#000" }}>{xLabel}</div>
      <div style={{ position: "absolute", left: r.x - yLabelDx - 200, top: r.y + r.h / 2 - 14, width: 400, textAlign: "center", fontSize: 20.8, lineHeight: "28px", fontFamily: FONT, color: "#000", transform: "rotate(-90deg)" }}>{yLabel}</div>
    </>
  );
}

type LegendItem = { label: string; swatch: React.ReactNode };
function LegendBox({ left, top, width, items, patch }: { left: number; top: number; width: number; items: LegendItem[]; patch?: boolean }) {
  return (
    <div style={{ position: "absolute", left, top, width, height: 63, border: "1.6px solid #d6d6d6", borderRadius: 4, background: "rgba(255,255,255,0.8)", boxSizing: "border-box" }}>
      {items.map((it, i) => (
        <React.Fragment key={it.label}>
          <div style={{ position: "absolute", left: patch ? 6 : 21, top: 16.5 + i * 29 - (patch ? 7.5 : 9), width: patch ? 42 : 18, height: patch ? 15 : 18 }}>{it.swatch}</div>
          <div style={{ position: "absolute", left: 67, top: 16.5 + i * 29 - 14, fontSize: 20.8, lineHeight: "28px", fontFamily: FONT, color: "#000", whiteSpace: "nowrap" }}>{it.label}</div>
        </React.Fragment>
      ))}
    </div>
  );
}

const dot = (color: string, alpha: number) => (
  <svg width={18} height={18}><circle cx={9} cy={9} r={4.9} fill={color} fillOpacity={alpha} stroke={color} strokeOpacity={alpha} strokeWidth={1.2} /></svg>
);
const sq = (color: string, alpha: number) => (
  <svg width={18} height={18}><rect x={2} y={2} width={14} height={14} fill={color} fillOpacity={alpha} stroke={color} strokeOpacity={alpha} strokeWidth={1.2} /></svg>
);
const patchOf = (color: string, alpha: number) => <div style={{ width: 42, height: 15, background: color, opacity: alpha }} />;

const circleShape = (color: string, alpha: number) => (p: any) => (
  <circle cx={p.cx} cy={p.cy} r={4.9} fill={color} fillOpacity={alpha} stroke={color} strokeOpacity={alpha} strokeWidth={1.2} />
);
const squareShape = (color: string, alpha: number) => (p: any) => (
  <rect x={p.cx - 7.2} y={p.cy - 7.2} width={14.4} height={14.4} fill={color} fillOpacity={alpha} stroke={color} strokeOpacity={alpha} strokeWidth={1.2} />
);

const toPts = (arr: [number, number][]) => arr.map(([x, y]) => ({ x, y }));

function ScatterPanel(props: {
  r: Rect; xDomain: [number, number]; yDomain: [number, number]; xTicks: number[]; yTicks: number[];
  healthy: [number, number][]; damaged: [number, number][]; square?: boolean; xFmt: (v: number) => string;
}) {
  const { r, xDomain, yDomain, xTicks, yTicks, healthy, damaged, square, xFmt } = props;
  const alpha = square ? 0.7 : 0.6;
  const shape = square ? squareShape : circleShape;
  return (
    <div style={box(r)}>
      <ScatterChart width={cw(r)} height={ch(r)} margin={MARGIN}>
        <CartesianGrid {...gridProps} />
        <XAxis type="number" dataKey="x" domain={xDomain} ticks={xTicks} tickFormatter={xFmt} height={X_H} {...axisProps} />
        <YAxis type="number" dataKey="y" domain={yDomain} ticks={yTicks} tickFormatter={fmt1} width={Y_W} {...axisProps} />
        <Scatter name="Healthy" data={toPts(healthy)} shape={shape("#0000ff", alpha)} isAnimationActive={false} />
        <Scatter name="Damaged" data={toPts(damaged)} shape={shape("#ff0000", alpha)} isAnimationActive={false} />
      </ScatterChart>
    </div>
  );
}

// histogram table: step points at every bin edge of both histograms
function edges(range: number[], n: number) {
  const w = (range[1] - range[0]) / n;
  return Array.from({ length: n + 1 }, (_, i) => range[0] + i * w);
}
function valueAt(e: number[], vals: number[], x: number) {
  for (let i = 0; i < vals.length; i++) if (x >= e[i] - 1e-9 && x < e[i + 1] - 1e-9) return vals[i];
  return 0;
}
const SRC_EDGES = edges(SRC_HIST_RANGE, SRC_DENSITY.length);
const TGT_EDGES = edges(TGT_HIST_RANGE, TGT_DENSITY.length);
const HIST_ROWS = [...SRC_EDGES, ...TGT_EDGES]
  .sort((a, b) => a - b)
  .map((x) => ({ x, src: valueAt(SRC_EDGES, SRC_DENSITY, x), tgt: valueAt(TGT_EDGES, TGT_DENSITY, x) }));

const MMD_ROWS = MMD_FEATURES.map((f, i) => ({ feature: f, score: MMD_SCORES[i] }));
const CLASS_ROWS = CLASS_NAMES.map((name, i) => ({ pos: i, name, source: SOURCE_COUNTS[i], target: TARGET_COUNTS[i] }));

export default function App() {
  return (
    <div style={{ position: "absolute", left: 0, top: 0, width: 2235, height: 1486, background: "#fff", overflow: "hidden" }}>
      <ScatterPanel r={P1} xDomain={[-5.45, 5.08]} yDomain={[-1.95, 1.9]} xTicks={SRC_X_TICKS} yTicks={SRC_Y_TICKS}
        healthy={SRC_HEALTHY} damaged={SRC_DAMAGED} xFmt={fmt0} />
      <Frame r={P1} title="Source Domain (Old Structure)" xLabel="PC1" yLabel="PC2" yLabelDx={75} />
      <LegendBox left={343} top={604} width={147} items={[{ label: "Healthy", swatch: dot("#0000ff", 0.6) }, { label: "Damaged", swatch: dot("#ff0000", 0.6) }]} />

      <ScatterPanel r={P2} xDomain={[0.04, 9.2]} yDomain={[-1.656, 1.25]} xTicks={TRAIN_X_TICKS} yTicks={TRAIN_Y_TICKS}
        healthy={TRAIN_HEALTHY} damaged={TRAIN_DAMAGED} square xFmt={fmt0} />
      <Frame r={P2} title="Target Domain Train (New Structure)" xLabel="PC1" yLabel="PC2" yLabelDx={75} />
      <LegendBox left={851} top={604} width={149} items={[{ label: "Healthy", swatch: sq("#0000ff", 0.7) }, { label: "Damaged", swatch: sq("#ff0000", 0.7) }]} />

      <ScatterPanel r={P3} xDomain={[0.07, 9.44]} yDomain={[-1.75, 1.934]} xTicks={TEST_X_TICKS} yTicks={TEST_Y_TICKS}
        healthy={TEST_HEALTHY} damaged={TEST_DAMAGED} xFmt={fmt0} />
      <Frame r={P3} title="Target Domain Test" xLabel="PC1" yLabel="PC2" yLabelDx={74} />
      <LegendBox left={2062} top={58} width={147} items={[{ label: "Healthy", swatch: dot("#0000ff", 0.6) }, { label: "Damaged", swatch: dot("#ff0000", 0.6) }]} />

      <div style={box(P4)}>
        <AreaChart width={cw(P4)} height={ch(P4)} data={HIST_ROWS} margin={MARGIN}>
          <CartesianGrid {...gridProps} />
          <XAxis type="number" dataKey="x" domain={[-2.3, 5.09]} ticks={HIST_X_TICKS} tickFormatter={fmt0} height={X_H} {...axisProps} />
          <YAxis type="number" domain={[0, 0.688]} ticks={HIST_Y_TICKS} tickFormatter={fmt1} width={Y_W} {...axisProps} />
          <Area type="stepAfter" dataKey="src" name="Source" stroke="none" fill="#0000ff" fillOpacity={0.5} isAnimationActive={false} />
          <Area type="stepAfter" dataKey="tgt" name="Target" stroke="none" fill="#ffa500" fillOpacity={0.5} isAnimationActive={false} />
        </AreaChart>
      </div>
      <Frame r={P4} title="Feature Distribution Comparison" xLabel="Feature 1" yLabel="Density" yLabelDx={65} />
      <LegendBox left={588} top={796} width={137} patch items={[{ label: "Source", swatch: patchOf("#0000ff", 0.5) }, { label: "Target", swatch: patchOf("#ffa500", 0.5) }]} />

      <div style={box(P5)}>
        <BarChart width={cw(P5)} height={ch(P5)} data={MMD_ROWS} margin={MARGIN}>
          <CartesianGrid {...gridProps} vertical={false} />
          <XAxis type="number" dataKey="feature" domain={[0.11, 10.89]} ticks={MMD_X_TICKS} tickFormatter={fmt0} height={X_H} {...axisProps} />
          <YAxis type="number" domain={[0, 2.464]} ticks={MMD_Y_TICKS} tickFormatter={fmt1} width={Y_W} {...axisProps} />
          <Bar dataKey="score" barSize={47} fill="#4682b4" fillOpacity={0.7} isAnimationActive={false}>
            <LabelList dataKey="score" position="top" offset={3} formatter={(v: any) => Number(v).toFixed(2)}
              style={{ fontSize: 16.7, fill: "#000", fontFamily: FONT }} />
          </Bar>
        </BarChart>
      </div>
      <Frame r={P5} title="MMD Distance per Feature" xLabel="Feature Index" yLabel="MMD Score" yLabelDx={65} />

      <div style={box(P6)}>
        <BarChart width={cw(P6)} height={ch(P6)} data={CLASS_ROWS} margin={MARGIN} barGap={0}>
          <CartesianGrid {...gridProps} vertical={false} />
          <XAxis type="number" dataKey="pos" domain={[-0.435, 1.435]} ticks={[0, 1]} tickFormatter={(v: number) => CLASS_NAMES[v] ?? ""} height={X_H} {...axisProps} />
          <YAxis type="number" domain={[0, 1050]} ticks={CLASS_Y_TICKS} width={Y_W} {...axisProps} />
          <Bar dataKey="source" name="Source" barSize={119} fill="#0000ff" fillOpacity={0.7} isAnimationActive={false} />
          <Bar dataKey="target" name="Target" barSize={119} fill="#ffa500" fillOpacity={0.7} isAnimationActive={false} />
        </BarChart>
      </div>
      <Frame r={P6} title="Class Distribution" xLabel="Class" yLabel="Sample Count" yLabelDx={76} />
      <LegendBox left={2073} top={796} width={136} patch items={[{ label: "Source", swatch: patchOf("#0000ff", 0.7) }, { label: "Target", swatch: patchOf("#ffa500", 0.7) }]} />

      <div style={{ position: "absolute", left: 1896, top: 1420, fontSize: 40, lineHeight: "50px", fontFamily: "'Liberation Sans', Arial, sans-serif", color: "rgba(150,150,150,0.5)", whiteSpace: "nowrap" }}>
        CSDN @kkchenkx
      </div>
    </div>
  );
}
